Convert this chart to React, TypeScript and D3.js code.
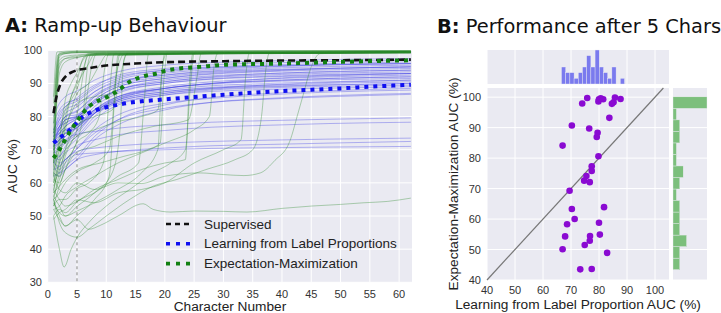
import React from "react";
import * as d3 from "d3";

// ---------- Panel A: AUC per character for each participant ----------
// Characters at which the LLP curves are sampled
const llpKnots = [1, 2, 3, 5, 8, 12, 20, 28, 38, 48, 62];

// Learning from Label Proportions, one row per participant (values at llpKnots)
const llpCurves: number[][] = [
  [70, 68, 71, 74.0, 80, 85, 88.5, 90, 91.5, 92.3, 93],
  [72, 74, 73, 75.8, 81, 84.5, 87, 88.5, 89.6, 90.3, 91],
  [74, 77, 78, 79.8, 85, 89, 91.5, 93, 93.8, 94.5, 95],
  [73, 76, 79, 80.0, 84, 88, 90.5, 92, 93, 93.5, 94],
  [75, 78, 80, 80.6, 86, 90, 93, 94.2, 95, 95.6, 96],
  [71, 77, 80, 81.5, 86.5, 90, 92.5, 93.8, 94.6, 95.1, 95.5],
  [76, 80, 83, 84.6, 88.5, 91.5, 94, 95, 95.6, 96, 96.5],
  [78, 82, 84, 85.2, 89, 92.5, 94.5, 95.6, 96.2, 96.6, 97],
  [75, 81, 83, 85.7, 89.5, 92, 94, 94.8, 95.3, 95.7, 96],
  [80, 84, 86, 87.7, 91, 93.5, 95.5, 96.3, 96.8, 97.2, 97.5],
  [74, 79, 82, 83.7, 87.5, 90.5, 92.5, 93.6, 94.2, 94.6, 95],
  [68, 66, 67, 70.3, 76, 80.5, 84, 85.5, 86.6, 87.4, 88],
  [70, 72, 74, 76.5, 82, 86, 88.5, 90, 90.8, 91.5, 92],
  [72, 75, 77, 79.5, 84.5, 88, 91, 92.3, 93, 93.6, 94],
  [73, 75, 77, 79.2, 82, 85, 87.5, 88.6, 89.2, 89.6, 90],
  [65, 63, 64, 67.0, 68.5, 69.5, 70.5, 71.2, 71.6, 72, 72.5],
  [72, 76, 78, 79.8, 84, 87.5, 90, 91.3, 92, 92.5, 93],
  [71, 73, 75, 77.4, 82, 85.5, 88, 89.3, 90, 90.5, 91],
  [74, 75, 76, 77.4, 81, 84, 86.5, 87.6, 88.2, 88.6, 89],
  [69, 70, 72, 75.5, 81, 86, 89, 90.5, 91.4, 92, 92.5],
  [70, 71, 73, 74.7, 75.5, 76.5, 77.5, 78.3, 78.8, 79.2, 79.6],
  [72, 73, 75, 76.7, 81.5, 85, 87.5, 88.8, 89.5, 90, 90.5],
  [66, 65, 67, 69.5, 70.5, 71.2, 72, 72.5, 72.9, 73.2, 73.5],
  [64, 65, 67, 70.3, 75, 79, 82.5, 84.3, 85.3, 86, 86.7],
  [73, 77, 80, 81.8, 86, 89.5, 92, 93.3, 94, 94.5, 95],
  [68, 67, 69, 71.3, 73, 74.5, 75.8, 76.8, 77.4, 77.9, 78.3],
  [67, 64, 66, 68.6, 69, 69.5, 70, 70.4, 70.6, 70.8, 71],
  [74, 76, 79, 80.0, 84.5, 88, 90.5, 91.8, 92.6, 93.1, 93.5],
  [62, 63, 65, 67.9, 74, 79, 83.5, 85.8, 87, 87.8, 88.5],
  [71, 72, 74, 76.8, 82, 86, 88.5, 89.8, 90.6, 91.1, 91.5],
  [70, 73, 75, 76.7, 81, 84.5, 87, 88.3, 89, 89.5, 90],
  [75, 77, 79, 80.3, 85, 89, 91.5, 92.8, 93.6, 94.1, 94.5],
  [63, 62, 64, 67.0, 73, 77.5, 82, 84.3, 85.5, 86.3, 87],
  [69, 71, 72, 74.9, 81, 85.5, 88.5, 90, 90.9, 91.5, 92],
  [76, 79, 81, 82.9, 87.5, 91, 93.5, 94.6, 95.2, 95.6, 96],
  [66, 68, 70, 73.3, 79, 83.5, 86.5, 88, 88.7, 89.1, 89.5],
  [71, 74, 76, 77.4, 83, 87, 90, 91.4, 92.2, 92.7, 93],
];

// Expectation-Maximization, one row per participant as [character, AUC] pairs
const emCurves: [number, number][][] = [
  [[1, 66], [2, 96], [3, 97.5], [5, 97.9], [8, 98.8], [15, 99.2], [30, 99.4], [62, 99.6]],
  [[1, 72], [1.7, 98.5], [3, 99.4], [5, 99.7], [15, 99.8], [62, 99.9]],
  [[1, 62], [2, 97], [3, 98.2], [5, 98.6], [10, 99.2], [30, 99.5], [62, 99.7]],
  [[1, 78], [2, 98.5], [3, 99], [5, 99.3], [20, 99.6], [62, 99.8]],
  [[1, 84], [2, 99.2], [5, 99.6], [62, 99.9]],
  [[1, 70], [2, 98], [3, 99], [5, 99.3], [20, 99.5], [62, 99.7]],
  [[1, 65], [2, 93], [3, 96.5], [5, 97.8], [8, 98.5], [15, 99], [40, 99.3], [62, 99.4]],
  [[1, 68], [2, 95], [3, 97.5], [5, 98.3], [10, 98.9], [30, 99.2], [62, 99.4]],
  [[1, 86], [1.6, 99.5], [5, 99.9], [62, 100]],
  [[1, 75], [2, 98.8], [5, 99.4], [20, 99.6], [62, 99.8]],
  [[1, 60], [2, 72], [3, 85], [4, 90], [5, 93.2], [6, 97], [7, 98.8], [10, 99.2], [62, 99.5]],
  [[1, 58], [2, 66], [3, 78], [4, 86], [5, 90.7], [6, 97.5], [7, 99], [62, 99.5]],
  [[1, 64], [2, 70], [3, 80], [4, 86], [5, 89.7], [7, 96], [8, 98.8], [62, 99.4]],
  [[1, 62], [2, 74], [3, 82], [4, 85], [5, 88.3], [6, 94], [7, 98.5], [62, 99.3]],
  [[1, 57], [2, 68], [3, 76], [4, 82], [5, 86.9], [7, 90], [9, 96], [10, 98.5], [62, 99.2]],
  [[1, 66], [2, 72], [3, 77], [4, 81], [5, 84.1], [8, 86], [11, 87], [12, 95], [13, 98.8], [62, 99.3]],
  [[1, 55], [2, 63], [3, 70], [4, 76], [5, 80.6], [6, 92], [6.8, 98.5], [62, 99.4]],
  [[1, 60], [2, 66], [3, 70], [5, 77.3], [8, 80], [11, 82], [12.5, 93], [13.5, 98.8], [62, 99.3]],
  [[1, 63], [2, 62], [3, 68], [5, 75.8], [6.5, 84], [7.5, 95], [8.3, 98.8], [62, 99.4]],
  [[1, 59], [2, 64], [3, 69], [5, 74.1], [8, 76], [12, 78.5], [16, 80], [18.8, 82], [19.6, 95], [20.3, 99], [62, 99.5]],
  [[1, 56], [2, 61], [3, 66], [5, 72.6], [6, 80], [6.8, 95], [7.4, 98.8], [62, 99.3]],
  [[1, 53], [2, 59], [3, 64], [5, 72.1], [7, 75], [8.8, 80], [9.6, 93], [10.4, 98.8], [62, 99.3]],
  [[1, 61], [2, 60], [3, 64], [5, 69.3], [8, 71], [12, 74], [18, 77], [24, 79], [25.5, 92], [26.2, 99], [62, 99.5]],
  [[1, 55], [2, 57], [3, 60], [5, 63.3], [8, 66], [10.5, 70], [11.6, 90], [12.3, 98.8], [62, 99.3]],
  [[1, 57], [2, 59], [3, 61], [5, 63.9], [9, 66], [13, 68], [17, 70], [19.2, 72], [19.8, 90], [20.4, 99], [62, 99.5]],
  [[1, 62], [2, 58], [3, 57], [5, 60], [8, 58], [12, 60], [16, 59.8], [20, 62], [26, 63], [30, 62.5], [33.5, 62.2], [36.3, 63], [38.8, 66.8], [41.3, 72.4], [42.8, 81.4], [43.6, 86.4], [45, 95], [46.5, 99], [62, 99.4]],
  [[1, 53], [2, 55], [3, 55], [5, 58.3], [7, 60], [9.5, 66], [10.6, 88], [11.3, 98.8], [62, 99.3]],
  [[1, 52], [2, 53], [3, 56], [5, 58.8], [8, 62], [12, 66], [16, 69], [20, 72], [25, 76], [27.6, 80], [28.4, 95], [29, 99], [62, 99.5]],
  [[1, 50], [2, 52], [3, 51], [5, 54.3], [8, 57], [12, 62], [15.5, 66], [16.5, 85], [17.2, 98.8], [62, 99.3]],
  [[1, 58], [2, 55], [3, 53], [5, 54.4], [8, 58], [12, 61], [16, 64], [20, 66], [23.5, 67], [24.2, 90], [24.8, 99], [62, 99.4]],
  [[1, 54], [2, 51], [3, 50], [5, 52.9], [8, 57], [11, 63], [12.3, 75], [13, 97], [13.6, 99], [62, 99.3]],
  [[1, 49], [2, 51], [3, 52], [5, 54.9], [8, 54], [12, 57], [16, 58], [20, 60], [25, 66], [30, 70], [33, 73], [33.8, 92], [34.4, 99], [62, 99.5]],
  [[1, 52], [2, 49], [3, 47], [5, 50.1], [8, 55], [10.5, 62], [11.4, 85], [12, 98.5], [62, 99.3]],
  [[1, 56], [2, 53], [3, 50], [5, 51.5], [8, 54], [12, 58], [16, 63], [18.8, 70], [19.5, 93], [20, 99], [62, 99.4]],
  [[1, 55], [2, 50], [3, 47], [5, 48.9], [7, 46], [9, 47.2], [12, 50], [16.3, 53.7], [18, 52], [21, 51.2], [25, 51.5], [30, 51.4], [34, 51.2], [40, 52.3], [45, 53], [50, 53.5], [54, 54], [58, 54.4], [62, 55.4]],
  [[1, 50], [2, 40], [2.8, 34.6], [4, 40], [5, 43.5], [7, 48], [10, 53], [14, 58], [18, 63], [21, 66], [23.5, 70], [24.4, 90], [25, 99], [62, 99.4]],
  [[1, 55], [2, 48], [3, 45], [5, 43.6], [7, 46], [10, 50], [14, 55], [18, 59], [22, 61], [27, 64], [32, 67], [35, 70], [36.5, 80], [37.3, 95], [37.8, 99], [62, 99.4]],
];

// Averages over participants
const supervisedMean: [number, number][] = [
  [1, 81], [1.5, 86], [2, 89], [3, 92], [4, 93.3], [5, 94], [7, 94.6], [10, 95.4], [15, 96], [20, 96.4], [30, 96.7], [40, 96.9], [50, 97], [62, 97.2],
];
const llpMean: [number, number][] = [
  [1, 72], [2, 73.5], [3, 74.8], [4, 76.3], [5, 78.2], [6, 80], [7, 81], [8, 81.8], [10, 82.8], [12, 83.6], [15, 84.4], [20, 85.2], [25, 85.9], [30, 86.6], [35, 87.2], [40, 87.7], [45, 88.1], [50, 88.5], [55, 89], [62, 89.6],
];
const emMean: [number, number][] = [
  [1, 67.5], [2, 70], [3, 73], [4, 76], [5, 78.5], [6, 81], [7, 83], [8, 84.2], [10, 85.8], [12, 87.8], [14, 90.5], [16, 92], [19, 93.2], [20, 93.8], [22, 94.4], [26, 95], [30, 95.6], [40, 96], [50, 96.5], [62, 97],
];

const xTicksA = [0, 5, 10, 15, 20, 25, 30, 35, 40, 45, 50, 55, 60];
const yTicksA = [30, 40, 50, 60, 70, 80, 90, 100];
const legendLabels = ["Supervised", "Learning from Label Proportions", "Expectation-Maximization"];
const markChar = 5;

// ---------- Panel B ----------
const ticksB = [40, 50, 60, 70, 80, 90, 100];
const diagonal: [number, number][] = [[40, 40], [103, 103]];

const SANS = '"Liberation Sans", Arial, sans-serif';
const TITLE = '"DejaVu Sans", sans-serif';
const BG = "#EAEAF2";
const TICK = "#333";

export default function App() {
  // scales
  const xA = d3.scaleLinear().domain([0, 62.2]).range([47.7, 412]);
  const yA = d3.scaleLinear().domain([30, 100]).range([282.3, 50.3]);
  const lineA = d3
    .line<[number, number]>()
    .x((d) => xA(d[0]))
    .y((d) => yA(d[1]))
    .curve(d3.curveMonotoneX);

  const xB = d3.scaleLinear().domain([40, 105]).range([487, 669]);
  const yB = d3.scaleLinear().domain([40, 103]).range([280, 88]);

  const i5 = llpKnots.indexOf(markChar);
  const llpAt5 = llpCurves.map((r) => r[i5]);
  const emAt5 = emCurves.map((pts) => (pts.find((p) => p[0] === markChar) as [number, number])[1]);

  // marginal histograms
  const topBins = d3.bin().domain([66.6, 89.1]).thresholds(d3.range(66.6, 89.1, 1.5))(llpAt5);
  const rightBins = d3.bin().domain([43.4, 100.1]).thresholds(d3.range(43.4, 100.1, 3.78))(emAt5);
  const topH = d3.scaleLinear().domain([0, d3.max(topBins, (b) => b.length) as number]).range([84, 50]);
  const rightW = d3.scaleLinear().domain([0, d3.max(rightBins, (b) => b.length) as number]).range([673, 707]);

  const [ax0, ax1] = xA.range();
  const [ayb, ayt] = yA.range();

  return (
    <svg
      width={721}
      height={313}
      style={{ position: "absolute", left: 0, top: 0, background: "#fff" }}
      fontFamily={SANS}
    >
      <defs>
        <clipPath id="clipA">
          <rect x={ax0} y={ayt} width={ax1 - ax0} height={ayb - ayt} />
        </clipPath>
      </defs>

      {/* ===== Panel A ===== */}
      <text x={5} y={32} fontFamily={TITLE} fontSize={19.4} fill="#111">
        <tspan fontWeight="bold">A:</tspan> Ramp-up Behaviour
      </text>
      <rect x={ax0} y={ayt} width={ax1 - ax0} height={ayb - ayt} fill={BG} />
      {xTicksA.map((t) => (
        <line key={"gx" + t} x1={xA(t)} x2={xA(t)} y1={ayt} y2={ayb} stroke="#fff" strokeWidth={1} />
      ))}
      {yTicksA.map((t) => (
        <line key={"gy" + t} x1={ax0} x2={ax1} y1={yA(t)} y2={yA(t)} stroke="#fff" strokeWidth={1} />
      ))}
      <g clipPath="url(#clipA)">
        <line
          x1={xA(markChar)}
          x2={xA(markChar)}
          y1={ayt}
          y2={ayb}
          stroke="#999"
          strokeWidth={1.2}
          strokeDasharray="3,3"
        />
        {llpCurves.map((r, i) => (
          <path
            key={"llp" + i}
            d={lineA(r.map((v, k) => [llpKnots[k], v] as [number, number])) as string}
            fill="none"
            stroke="#3a3ae6"
            strokeOpacity={0.45}
            strokeWidth={0.8}
          />
        ))}
        {emCurves.map((pts, i) => (
          <path
            key={"em" + i}
            d={lineA(pts) as string}
            fill="none"
            stroke="#2a8a2a"
            strokeOpacity={0.45}
            strokeWidth={0.8}
          />
        ))}
        <path d={lineA(supervisedMean) as string} fill="none" stroke="#111" strokeWidth={2.6} strokeDasharray="7,4" />
        <path d={lineA(llpMean) as string} fill="none" stroke="#1010f0" strokeWidth={4} strokeDasharray="4,5" />
        <path d={lineA(emMean) as string} fill="none" stroke="#128012" strokeWidth={4} strokeDasharray="4,5" />
      </g>
      {xTicksA.map((t) => (
        <text key={"tx" + t} x={xA(t)} y={297.5} fontSize={11} fill={TICK} textAnchor="middle">
          {t}
        </text>
      ))}
      {yTicksA.map((t) => (
        <text key={"ty" + t} x={42} y={yA(t) + 4} fontSize={11} fill={TICK} textAnchor="end">
          {t}
        </text>
      ))}
      <text x={230} y={311} fontSize={13.7} fill="#222" textAnchor="middle">
        Character Number
      </text>
      <text transform="translate(16.5,166) rotate(-90)" fontSize={13.7} fill="#222" textAnchor="middle">
        AUC (%)
      </text>

      {/* legend */}
      {legendLabels.map((lab, i) => {
        const y = 224 + i * 19.8;
        const stroke = i === 0 ? "#111" : i === 1 ? "#1010f0" : "#128012";
        return (
          <g key={lab}>
            <line
              x1={166}
              x2={190}
              y1={y}
              y2={y}
              stroke={stroke}
              strokeWidth={i === 0 ? 2.4 : 3.6}
              strokeDasharray={i === 0 ? "5,4" : "4,6"}
            />
            <text x={204} y={y + 4.5} fontSize={13.5} fill="#222">
              {lab}
            </text>
          </g>
        );
      })}

      {/* ===== Panel B ===== */}
      <text x={437} y={33} fontFamily={TITLE} fontSize={19.4} fill="#111">
        <tspan fontWeight="bold">B:</tspan> Performance after 5 Chars
      </text>

      {/* top marginal */}
      <rect x={487} y={50} width={182} height={34} fill={BG} />
      {ticksB.map((t) => (
        <line key={"tgx" + t} x1={xB(t)} x2={xB(t)} y1={50} y2={84} stroke="#fff" />
      ))}
      {topBins.map((b, i) =>
        b.length ? (
          <rect
            key={"tb" + i}
            x={xB(b.x0 as number)}
            y={topH(b.length)}
            width={xB(b.x1 as number) - xB(b.x0 as number)}
            height={84 - topH(b.length)}
            fill="#7a7aee"
            stroke={BG}
            strokeWidth={0.4}
          />
        ) : null
      )}

      {/* right marginal */}
      <rect x={673} y={88} width={34} height={192} fill={BG} />
      {ticksB.map((t) => (
        <line key={"rgy" + t} x1={673} x2={707} y1={yB(t)} y2={yB(t)} stroke="#fff" />
      ))}
      {rightBins.map((b, i) =>
        b.length ? (
          <rect
            key={"rb" + i}
            x={673}
            y={yB(b.x1 as number)}
            width={rightW(b.length) - 673}
            height={yB(b.x0 as number) - yB(b.x1 as number)}
            fill="#7cbf7c"
            stroke={BG}
            strokeWidth={0.4}
          />
        ) : null
      )}

      {/* scatter */}
      <rect x={487} y={88} width={182} height={192} fill={BG} />
      {ticksB.map((t) => (
        <line key={"sgx" + t} x1={xB(t)} x2={xB(t)} y1={88} y2={280} stroke="#fff" />
      ))}
      {ticksB.map((t) => (
        <line key={"sgy" + t} x1={487} x2={669} y1={yB(t)} y2={yB(t)} stroke="#fff" />
      ))}
      <line
        x1={xB(diagonal[0][0])}
        y1={yB(diagonal[0][1])}
        x2={xB(diagonal[1][0])}
        y2={yB(diagonal[1][1])}
        stroke="#777"
        strokeWidth={1.2}
      />
      {llpAt5.map((x, i) => (
        <circle key={"pt" + i} cx={xB(x)} cy={yB(emAt5[i])} r={3.3} fill="#8a0ad2" />
      ))}
      {ticksB.map((t) => (
        <text key={"bx" + t} x={xB(t)} y={293.5} fontSize={11} fill={TICK} textAnchor="middle">
          {t}
        </text>
      ))}
      {ticksB.map((t) => (
        <text key={"by" + t} x={481} y={yB(t) + 4} fontSize={11} fill={TICK} textAnchor="end">
          {t}
        </text>
      ))}
      <text x={578} y={309} fontSize={13.7} fill="#222" textAnchor="middle">
        Learning from Label Proportion AUC (%)
      </text>
      <text transform="translate(458,184) rotate(-90)" fontSize={13.7} fill="#222" textAnchor="middle">
        Expectation-Maximization AUC (%)
      </text>
    </svg>
  );
}
